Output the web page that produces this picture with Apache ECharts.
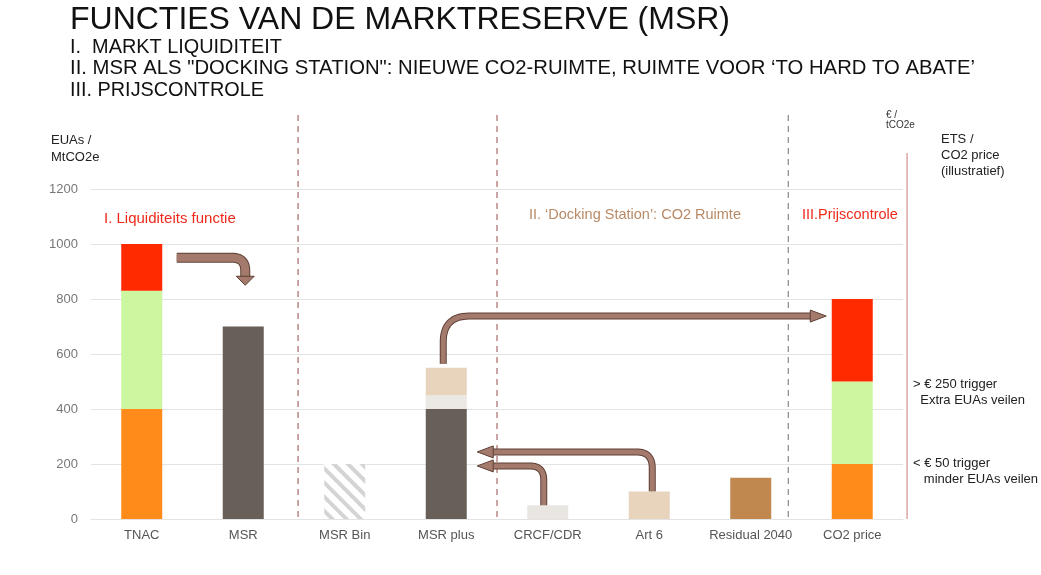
<!DOCTYPE html>
<html><head><meta charset="utf-8">
<script src="https://cdn.jsdelivr.net/npm/echarts@6/dist/echarts.min.js"></script>
<style>html,body{margin:0;padding:0;background:#fff}#c{width:1041px;height:575px}</style>
</head><body><div id="c"></div>
<script>
const categories = ['TNAC','MSR','MSR Bin','MSR plus','CRCF/CDR','Art 6','Residual 2040','CO2 price'];
const segBottom = [400, 700, 200, 400, 50, 100, 150, 200];
const segMiddle = [430, '-', '-', 50, '-', '-', '-', 300];
const segTop    = [170, '-', '-', 100, '-', '-', '-', 300];
const yTicks = [0, 200, 400, 600, 800, 1000, 1200];

const colBottom = ['#ff8c1a','#675f58','#ffffff','#675f58','#e9e6e1','#e8d4bd','#c0874f','#ff8c1a'];
const colMiddle = ['#ccf7a0', null, null, '#ece8e3', null, null, null, '#ccf7a0'];
const colTop    = ['#ff2a00', null, null, '#e8d4bd', null, null, null, '#ff2a00'];

const FONT = '"Liberation Sans", Arial, sans-serif';

function mk(vals, cols, isBottom) {
  return vals.map((v, i) => {
    if (v === '-') return '-';
    const o = { value: v, itemStyle: { color: cols[i] } };
    if (isBottom && i === 2) {
      o.itemStyle.decal = { symbol: 'rect', symbolSize: 1, dashArrayX: [[1, 0]], dashArrayY: [3.5, 6], rotation: Math.PI / 4, color: '#d4d4d4', backgroundColor: '#ffffff' };
    }
    return o;
  });
}

const chart = echarts.init(document.getElementById('c'));
chart.setOption({
  animation: false,
  aria: { enabled: true, decal: { show: false } },
  grid: { left: 91, right: 138, top: 189, bottom: 56 },
  xAxis: {
    type: 'category', data: categories,
    axisLine: { show: true, lineStyle: { color: '#e3e3e3' } },
    axisTick: { show: false },
    axisLabel: { color: '#555', fontSize: 13, fontFamily: FONT, margin: 10, interval: 0 }
  },
  yAxis: {
    type: 'value', min: yTicks[0], max: yTicks[yTicks.length - 1], interval: 200,
    axisLine: { show: false }, axisTick: { show: false },
    splitLine: { lineStyle: { color: '#e3e3e3' } },
    axisLabel: { color: '#777', fontSize: 13, fontFamily: FONT, margin: 13, formatter: v => String(v) }
  },
  series: [
    { type: 'bar', stack: 's', barWidth: 41, data: mk(segBottom, colBottom, true) },
    { type: 'bar', stack: 's', barWidth: 41, data: mk(segMiddle, colMiddle) },
    { type: 'bar', stack: 's', barWidth: 41, data: mk(segTop, colTop) }
  ]
});

const P = (i, v) => chart.convertToPixel({ xAxisIndex: 0, yAxisIndex: 0 }, [i, v]);
const step = P(1, 0)[0] - P(0, 0)[0];
const y0 = P(0, 0)[1];

const ctx = document.createElement('canvas').getContext('2d');
function measure(t, font) { ctx.font = font; return ctx.measureText(t).width; }

const g = [];
function txt(x, y, text, size, fill, opts) {
  opts = opts || {};
  const font = size + 'px ' + FONT;
  let sx = 1;
  if (opts.width) sx = opts.width / measure(text, font);
  g.push({ type: 'text', x: x, y: y, scaleX: sx, silent: true,
    style: { text: text, font: font, fill: fill, lineHeight: opts.lh || Math.round(size * 1.25), align: 'left', verticalAlign: 'top', textVerticalAlign: 'top' } });
}
// title
txt(70, 4, 'FUNCTIES VAN DE MARKTRESERVE (MSR)', 32, '#111', { width: 660, lh: 32 });
txt(70, 37, 'I.  MARKT LIQUIDITEIT', 20, '#111', { width: 212, lh: 20 });
txt(70, 58.5, 'II. MSR ALS "DOCKING STATION": NIEUWE CO2-RUIMTE, RUIMTE VOOR \u2018TO HARD TO ABATE\u2019', 20, '#111', { width: 905, lh: 20 });
txt(70, 80, 'III. PRIJSCONTROLE', 20, '#111', { width: 194, lh: 20 });
// axis titles
txt(51, 132, 'EUAs /\nMtCO2e', 13, '#222', { lh: 17 });
txt(886, 110, '\u20ac /\ntCO2e', 10, '#333', { lh: 10 });
txt(941, 131, 'ETS /\nCO2 price\n(illustratief)', 13, '#222', { lh: 16 });
txt(913, 376, '> \u20ac 250 trigger\n  Extra EUAs veilen', 13, '#222', { lh: 16 });
txt(913, 455, '< \u20ac 50 trigger\n   minder EUAs veilen', 13, '#222', { lh: 16 });
// section labels
txt(104, 210, 'I. Liquiditeits functie', 15, '#ee2a1a', { lh: 17 });
txt(529, 206, 'II. \u2018Docking Station\u2019: CO2 Ruimte', 14.5, '#b88a66', { lh: 17 });
txt(802, 206, 'III.Prijscontrole', 14.5, '#ee2a1a', { lh: 17 });

// dashed separators
const sepX = [P(1, 0)[0] + step * 0.54, P(3, 0)[0] + step * 0.5, P(6, 0)[0] + step * 0.37];
const sepCol = ['#a86a6a', '#a86a6a', '#888'];
sepX.forEach((x, k) => g.push({ type: 'line', silent: true, shape: { x1: x, y1: 115, x2: x, y2: y0 }, style: { stroke: sepCol[k], lineWidth: 1.2, lineDash: [6, 5] } }));
// right axis line
const rx = P(7, 0)[0] + step * 0.54;
g.push({ type: 'line', silent: true, shape: { x1: rx, y1: 153, x2: rx, y2: y0 }, style: { stroke: '#c77a7a', lineWidth: 1 } });

// arrows: corner path = start -> corner(rounded) -> end
function cornerPts(start, corner, end, r) {
  const d1 = [corner[0] - start[0], corner[1] - start[1]];
  const l1 = Math.hypot(d1[0], d1[1]);
  const d2 = [end[0] - corner[0], end[1] - corner[1]];
  const l2 = Math.hypot(d2[0], d2[1]);
  const u1 = [d1[0] / l1, d1[1] / l1], u2 = [d2[0] / l2, d2[1] / l2];
  const a = [corner[0] - u1[0] * r, corner[1] - u1[1] * r];
  const b = [corner[0] + u2[0] * r, corner[1] + u2[1] * r];
  const pts = [start];
  for (let k = 0; k <= 16; k++) {
    const t = k / 16;
    pts.push([(1 - t) * (1 - t) * a[0] + 2 * (1 - t) * t * corner[0] + t * t * b[0],
              (1 - t) * (1 - t) * a[1] + 2 * (1 - t) * t * corner[1] + t * t * b[1]]);
  }
  pts.push(end);
  return pts;
}
function arrow(pts, w, tip, dir, headL, headW) {
  g.push({ type: 'polyline', silent: true, shape: { points: pts }, style: { fill: null, stroke: '#5e4036', lineWidth: w + 2, lineJoin: 'round' } });
  g.push({ type: 'polyline', silent: true, shape: { points: pts }, style: { fill: null, stroke: '#a37a6c', lineWidth: w, lineJoin: 'round' } });
  const tx = tip[0], ty = tip[1]; let hp;
  if (dir === 'right') hp = [[tx, ty], [tx - headL, ty - headW / 2], [tx - headL, ty + headW / 2]];
  if (dir === 'left') hp = [[tx, ty], [tx + headL, ty - headW / 2], [tx + headL, ty + headW / 2]];
  if (dir === 'down') hp = [[tx, ty], [tx - headW / 2, ty - headL], [tx + headW / 2, ty - headL]];
  g.push({ type: 'polygon', silent: true, shape: { points: hp }, style: { fill: '#a37a6c', stroke: '#5e4036', lineWidth: 1 } });
}
// 1: TNAC -> MSR
(function () {
  const a = P(0, 950), b = P(1, 850);
  const sx = a[0] + 35, y = a[1], ex = b[0] + 2;
  arrow(cornerPts([sx, y], [ex, y], [ex, b[1] - 8], 13), 8, [ex, b[1]], 'down', 9, 18);
})();
// 2: MSR plus -> CO2 price
(function () {
  const a = P(3, 565), b = P(7, 738);
  const sx = a[0] - 3, ex = b[0] - 26, y = b[1];
  arrow(cornerPts([sx, a[1]], [sx, y], [ex - 14, y], 26), 5, [ex, y], 'right', 16, 12);
})();
// 3: Art 6 -> MSR plus
(function () {
  const a = P(5, 100), b = P(3, 244);
  const sx = a[0] + 3, ex = b[0] + 31, y = b[1];
  arrow(cornerPts([sx, a[1]], [sx, y], [ex + 14, y], 16), 5, [ex, y], 'left', 16, 12);
})();
// 4: CRCF/CDR -> MSR plus
(function () {
  const a = P(4, 47), b = P(3, 193);
  const sx = a[0] - 4, ex = b[0] + 31, y = b[1];
  arrow(cornerPts([sx, a[1]], [sx, y], [ex + 14, y], 14), 5, [ex, y], 'left', 16, 12);
})();
chart.setOption({ graphic: { elements: g } });
</script></body></html>
